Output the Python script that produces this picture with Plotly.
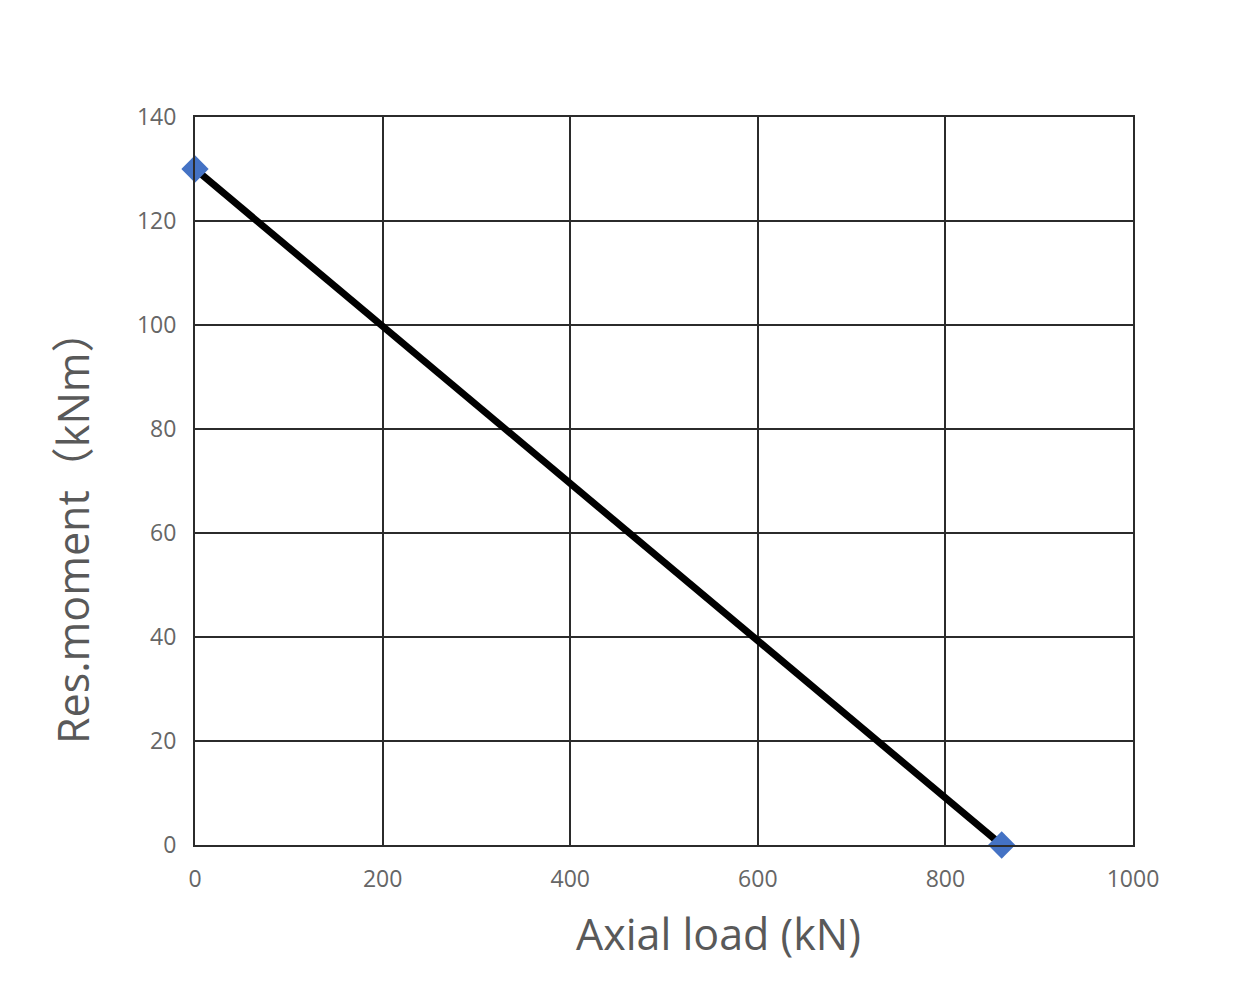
import plotly.graph_objects as go

axial_load = [0, 860]
res_moment = [130, 0]
x_ticks = [0, 200, 400, 600, 800, 1000]
y_ticks = [0, 20, 40, 60, 80, 100, 120, 140]

W, H = 1252, 982
L, R, T, B = 187, 127, 109, 145
pw, ph = W - L - R, H - T - B

def px_x(px):
    return (px - 8 - L) / pw

def px_y(py):
    return (H - B - (py - 8)) / ph

fig = go.Figure()
fig.add_trace(go.Scatter(
    x=axial_load, y=res_moment, mode="lines+markers",
    line=dict(color="black", width=7),
    marker=dict(symbol="diamond", size=21, color="#4472C4"),
    cliponaxis=False, showlegend=False,
))

grid = "#2b2b2b"
fig.update_layout(
    width=W, height=H,
    margin=dict(l=L, r=R, t=T, b=B),
    paper_bgcolor="white", plot_bgcolor="white",
    font=dict(family="Open Sans, Noto Sans CJK SC, sans-serif", color="#595959"),
)
fig.update_xaxes(
    range=[0, 1000], tickvals=x_ticks,
    showgrid=True, gridcolor=grid, gridwidth=2,
    showline=True, linecolor=grid, linewidth=2, mirror=True,
    zeroline=False, ticks="", tickfont=dict(size=23, color="#666666"),
    ticklabelstandoff=12,
)
fig.update_yaxes(
    range=[0, 140], tickvals=y_ticks,
    showgrid=True, gridcolor=grid, gridwidth=2,
    showline=True, linecolor=grid, linewidth=2, mirror=True,
    zeroline=False, ticks="", tickfont=dict(size=23, color="#666666"),
    ticklabelstandoff=12,
)
fig.add_annotation(
    text="Axial load (kN)", xref="paper", yref="paper",
    x=px_x(718), y=px_y(933), showarrow=False,
    xanchor="center", yanchor="middle",
    font=dict(size=43, color="#595959"),
)
fig.add_annotation(
    text="Res.moment（kNm）", xref="paper", yref="paper",
    x=px_x(72), y=px_y(527), showarrow=False, textangle=-90,
    xanchor="center", yanchor="middle",
    font=dict(size=43, color="#595959"),
)

fig.write_html("out.html")
